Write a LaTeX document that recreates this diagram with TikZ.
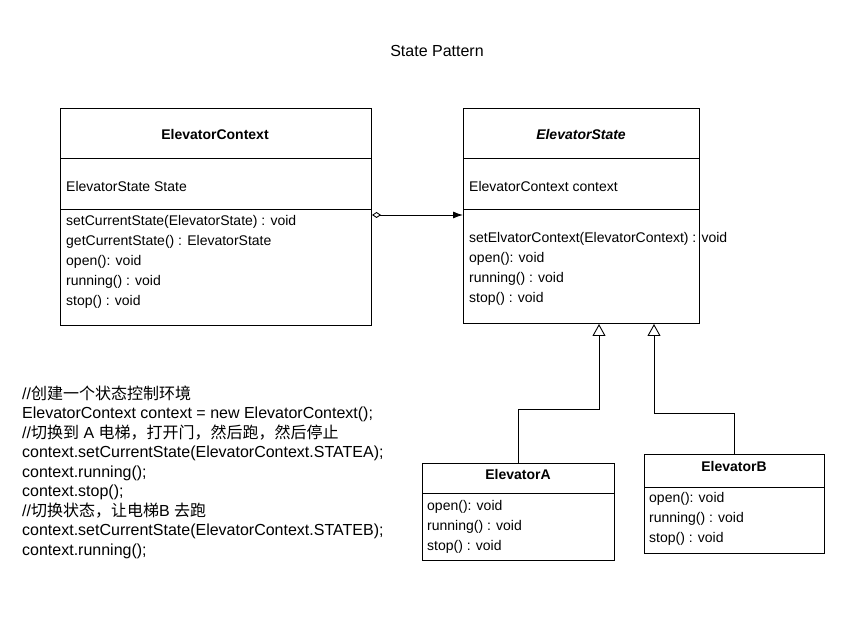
\documentclass[tikz,border=0pt]{standalone}
\usepackage{fontspec}
\setmainfont{Liberation Sans}
\newfontfamily\cjk{Noto Sans CJK SC}
\usetikzlibrary{arrows.meta}
\tikzset{
  classbox/.style={draw, line width=1pt, anchor=north west, inner sep=0pt},
  classname/.style={font=\fontsize{14}{16}\selectfont\bfseries, inner sep=0pt},
  members/.style={anchor=west, align=left, inner sep=0pt, font=\fontsize{14}{20}\selectfont},
  inherit/.style={line width=0.9pt, -{Triangle[open, length=12pt, width=13pt, fill=white]}},
}
\begin{document}
\begin{tikzpicture}[x=1pt, y=-1pt]
\useasboundingbox (0,0) rectangle (849,644);
\node[font=\fontsize{16}{18}\selectfont] (title) at (437,51) {State Pattern};

% ElevatorContext
\node[classbox, minimum width=311pt, minimum height=217pt] (ctx) at (60,108) {};
\node[classname] (ctxname) at (215,134) {ElevatorContext};
\draw[line width=0.8pt] (ctx.west |- 0,158) -- (ctx.east |- 0,158);
\draw[line width=0.8pt] (ctx.west |- 0,209) -- (ctx.east |- 0,209);
\node[members] (ctxattr) at (66,186) {ElevatorState State};
\node[members] (ctxops) at (66,262) {setCurrentState(ElevatorState) : void\\
  getCurrentState() : ElevatorState\\ open(): void\\ running() : void\\ stop() : void};

% ElevatorState
\node[classbox, minimum width=236pt, minimum height=215pt] (st) at (463,108) {};
\node[classname, font=\fontsize{14}{16}\selectfont\bfseries\itshape] (stname) at (581,134) {ElevatorState};
\draw[line width=0.8pt] (st.west |- 0,158) -- (st.east |- 0,158);
\draw[line width=0.8pt] (st.west |- 0,209) -- (st.east |- 0,209);
\node[members] (stattr) at (469,186) {ElevatorContext context};
\node[members] (stops) at (469,269) {setElvatorContext(ElevatorContext) : void\\
  open(): void\\ running() : void\\ stop() : void};

% ElevatorA
\node[classbox, minimum width=192pt, minimum height=97pt] (ea) at (422,463) {};
\node[classname] (eaname) at (518,474) {ElevatorA};
\draw[line width=0.8pt] (ea.west |- 0,493) -- (ea.east |- 0,493);
\node[members] (eaops) at (427,527) {open(): void\\ running() : void\\ stop() : void};

% ElevatorB
\node[classbox, minimum width=180pt, minimum height=99pt] (eb) at (644,454) {};
\node[classname] (ebname) at (734,466) {ElevatorB};
\draw[line width=0.8pt] (eb.west |- 0,487) -- (eb.east |- 0,487);
\node[members] (ebops) at (649,519) {open(): void\\ running() : void\\ stop() : void};

% connectors
\draw[line width=0.9pt, {Diamond[open, length=9pt, width=6pt]}-{Latex[length=10pt, width=7pt]}]
  (ctx.east |- 0,215) -- (st.west |- 0,215);
\coordinate (ka) at (599,409);
\coordinate (kb) at (654,413);
\draw[inherit] (ea.north) |- (ka) -- (ka |- st.south);
\draw[inherit] (eb.north) |- (kb) -- (kb |- st.south);

% client code
\node[anchor=west, align=left, inner sep=0pt, font=\fontsize{16}{19.5}\selectfont] (code) at (22,472) {%
  //{\cjk 创建一个状态控制环境}\\
  ElevatorContext context = new ElevatorContext();\\
  //{\cjk 切换到} A {\cjk 电梯，打开门，然后跑，然后停止}\\
  context.setCurrentState(ElevatorContext.STATEA);\\
  context.running();\\
  context.stop();\\
  //{\cjk 切换状态，让电梯}B {\cjk 去跑}\\
  context.setCurrentState(ElevatorContext.STATEB);\\
  context.running();};
\end{tikzpicture}
\end{document}
